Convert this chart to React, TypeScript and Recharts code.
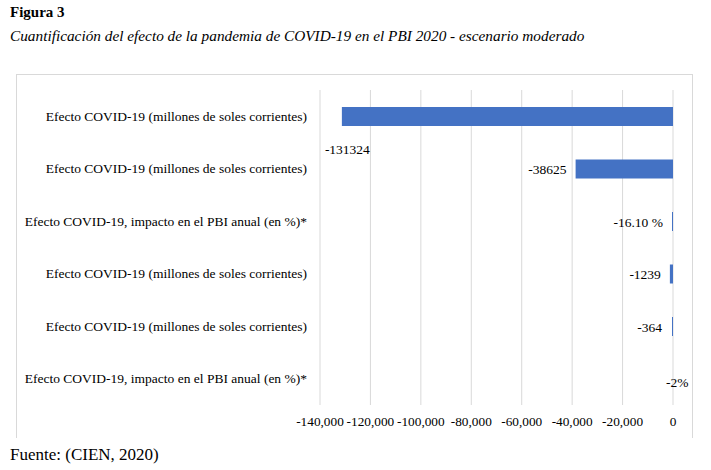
import React from "react";
import { BarChart, Bar, XAxis, YAxis, CartesianGrid, LabelList } from "recharts";

const categories = [
  "Efecto COVID-19 (millones de soles corrientes)",
  "Efecto COVID-19 (millones de soles corrientes)",
  "Efecto COVID-19, impacto en el PBI anual (en %)*",
  "Efecto COVID-19 (millones de soles corrientes)",
  "Efecto COVID-19 (millones de soles corrientes)",
  "Efecto COVID-19, impacto en el PBI anual (en %)*",
];
const values = [-131324, -38625, -16.1, -1239, -364, -2];
const valueLabels = ["-131324", "-38625", "-16.10 %", "-1239", "-364", "-2%"];
const xTicks = [-140000, -120000, -100000, -80000, -60000, -40000, -20000, 0];

const data = categories.map((name, i) => ({ id: i, name, value: values[i] }));

// label placement relative to the bar's left end (style only)
const labelStyle = [
  { dx: -17, dy: 33, anchor: "start" },
  { dx: -9, dy: 0, anchor: "end" },
  { dx: -9, dy: 1, anchor: "end" },
  { dx: -9, dy: 0, anchor: "end" },
  { dx: -10, dy: 1, anchor: "end" },
  { dx: -7, dy: 3, anchor: "start" },
];

const FONT = "'Liberation Serif', 'Times New Roman', serif";

const fmt = (v: number) => (v === 0 ? "0" : v.toLocaleString("en-US"));

const renderLabel = (props: any) => {
  const { x, y, width, height, index } = props;
  const left = Math.min(Number(x), Number(x) + Number(width));
  const cy = Number(y) + Number(height) / 2;
  const s = labelStyle[index];
  return (
    <text
      x={left + s.dx}
      y={cy + s.dy}
      textAnchor={s.anchor as any}
      dominantBaseline="central"
      fontFamily={FONT}
      fontSize={13.5}
      fill="#000"
    >
      {valueLabels[index]}
    </text>
  );
};

const CategoryTick = (props: any) => {
  const { x, y, payload } = props;
  return (
    <text
      x={x}
      y={y}
      textAnchor="end"
      dominantBaseline="central"
      fontFamily={FONT}
      fontSize={13.5}
      fill="#000"
    >
      {categories[payload.value]}
    </text>
  );
};

export default function App() {
  return (
    <div style={{ position: "absolute", left: 0, top: 0, width: 711, height: 470, background: "#fff", fontFamily: FONT }}>
      <div style={{ position: "absolute", left: 10, top: 2, fontSize: 15, fontWeight: "bold", lineHeight: "20px" }}>Figura 3</div>
      <div style={{ position: "absolute", left: 10, top: 26, fontSize: 15.3, fontStyle: "italic", lineHeight: "20px", whiteSpace: "nowrap" }}>
        Cuantificación del efecto de la pandemia de COVID-19 en el PBI 2020 - escenario moderado
      </div>
      <div
        style={{
          position: "absolute",
          left: 16,
          top: 74,
          width: 677,
          height: 364,
          borderTop: "1px solid #d9d9d9",
          borderLeft: "1px solid #d9d9d9",
          borderRight: "1px solid #d9d9d9",
          boxSizing: "border-box",
        }}
      />
      <div style={{ position: "absolute", left: 0, top: 0 }}>
        <BarChart
          width={711}
          height={470}
          data={data}
          layout="vertical"
          margin={{ top: 90, right: 38, bottom: 25, left: 20 }}
        >
          <CartesianGrid horizontal={false} stroke="#d9d9d9" />
          <XAxis
            type="number"
            domain={[-140000, 0]}
            ticks={xTicks}
            tickFormatter={fmt}
            axisLine={false}
            tickLine={false}
            tickSize={0}
            tickMargin={12}
            height={40}
            tick={{ fontFamily: FONT, fontSize: 13.3, fill: "#000" }}
            interval={0}
          />
          <YAxis
            type="category"
            dataKey="id"
            axisLine={false}
            tickLine={false}
            tickSize={0}
            tickMargin={13}
            width={300}
            tick={<CategoryTick />}
            interval={0}
          />
          <Bar
            dataKey="value"
            fill="#4472C4"
            barSize={19}
            minPointSize={(v: number, i: number) => (i === 5 ? 0 : 1)}
            isAnimationActive={false}
          >
            <LabelList dataKey="value" content={renderLabel} />
          </Bar>
        </BarChart>
      </div>
      <div style={{ position: "absolute", left: 10, top: 444, fontSize: 17, lineHeight: "22px", background: "#fff", paddingRight: 4 }}>
        Fuente: (CIEN, 2020)
      </div>
    </div>
  );
}
